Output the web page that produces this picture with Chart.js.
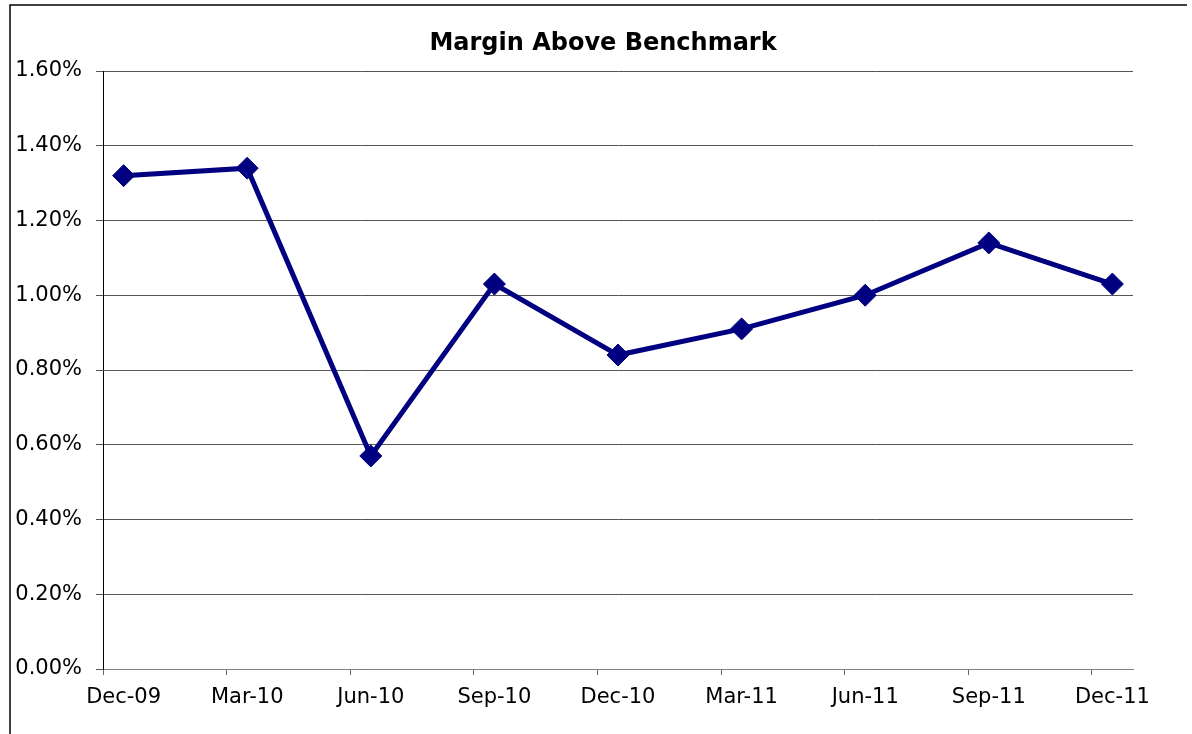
<!DOCTYPE html>
<html>
<head>
<meta charset="utf-8">
<title>Margin Above Benchmark</title>
<script src="https://cdn.jsdelivr.net/npm/chart.js@4/dist/chart.umd.min.js"></script>
<style>
  html, body { margin: 0; padding: 0; background: #fff; }
  #wrap { width: 1192px; height: 734px; }
</style>
</head>
<body>
<div id="wrap"><canvas id="marginChart" width="1192" height="734"></canvas></div>
<script>
// quarter labels and where they sit on the month axis (months since Dec 1 2009)
const quarters = ['Dec-09', 'Mar-10', 'Jun-10', 'Sep-10', 'Dec-10', 'Mar-11', 'Jun-11', 'Sep-11', 'Dec-11'];
const quarterMonths = [0.5, 3.5, 6.5, 9.5, 12.5, 15.5, 18.5, 21.5, 24.5];
const tickMonths = [0, 3, 6, 9, 12, 15, 18, 21, 24];
// margin above benchmark, as a fraction
const margins = [0.0132, 0.0134, 0.0057, 0.0103, 0.0084, 0.0091, 0.0100, 0.0114, 0.0103];
const yTickValues = [0, 0.002, 0.004, 0.006, 0.008, 0.010, 0.012, 0.014, 0.016];

const FONT = 'DejaVu Sans';

// outer frame like the original sheet: top and left edges only
const framePlugin = {
    id: 'frame',
    beforeDraw(chart) {
        const ctx = chart.ctx;
        ctx.save();
        ctx.fillStyle = '#fff';
        ctx.fillRect(0, 0, chart.width, chart.height);
        ctx.strokeStyle = '#000';
        ctx.lineWidth = 1.5;
        ctx.beginPath();
        ctx.moveTo(10, chart.height);
        ctx.lineTo(10, 5);
        ctx.lineTo(1187, 5);
        ctx.stroke();
        ctx.restore();
    }
};

const points = quarterMonths.map((m, i) => ({ x: m, y: margins[i] }));

new Chart(document.getElementById('marginChart').getContext('2d'), {
    type: 'line',
    data: {
        datasets: [{
            label: 'Margin Above Benchmark',
            data: points,
            borderColor: '#000080',
            backgroundColor: '#000080',
            borderWidth: 5,
            tension: 0,
            pointStyle: 'rectRot',
            pointRadius: 11,
            pointHoverRadius: 11,
            pointBorderWidth: 1,
            pointBackgroundColor: '#000080',
            pointBorderColor: '#000080'
        }]
    },
    options: {
        responsive: false,
        animation: false,
        layout: { padding: { left: 14, right: 0, top: 0, bottom: 0 } },
        plugins: {
            legend: { display: false },
            tooltip: { enabled: false },
            title: {
                display: true,
                text: 'Margin Above Benchmark',
                color: '#000',
                font: { family: FONT, size: 24, weight: 'bold' },
                padding: { top: 29, bottom: 13.2 }
            }
        },
        scales: {
            x: {
                type: 'linear',
                min: 0,
                max: 25,
                afterBuildTicks: axis => { axis.ticks = tickMonths.map(v => ({ value: v })); },
                afterFit: axis => { axis.height = 65; },
                grid: { drawOnChartArea: false, drawTicks: true, tickLength: 6, color: '#666' },
                border: { color: '#808080', width: 1 },
                ticks: {
                    color: '#000',
                    font: { family: FONT, size: 21 },
                    padding: 10,
                    labelOffset: 20.6,
                    maxRotation: 0,
                    autoSkip: false,
                    callback: (v, i) => quarters[i]
                }
            },
            y: {
                min: 0,
                max: 0.016,
                afterBuildTicks: axis => { axis.ticks = yTickValues.map(v => ({ value: v })); },
                afterFit: axis => { axis.width = 89; },
                grid: { color: '#555', lineWidth: 1, drawTicks: true, tickLength: 7 },
                border: { color: '#000', width: 1 },
                ticks: {
                    color: '#000',
                    font: { family: FONT, size: 21 },
                    padding: 14,
                    callback: v => (v * 100).toFixed(2) + '%'
                }
            },
            // empty right-hand strip, keeps the plot clear of the right edge
            yRight: {
                position: 'right',
                min: 0,
                max: 1,
                afterFit: axis => { axis.width = 59; },
                grid: { display: false },
                border: { display: false },
                ticks: { display: false }
            }
        }
    },
    plugins: [framePlugin]
});
</script>
</body>
</html>
